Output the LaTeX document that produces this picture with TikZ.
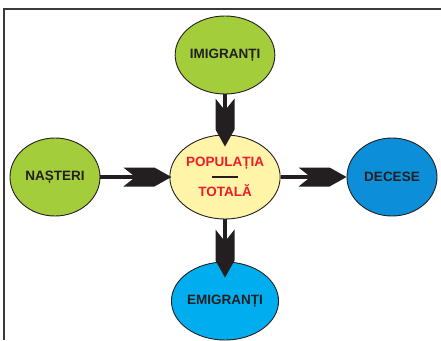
\documentclass[tikz,border=0pt]{standalone}
\usepackage{fontspec}
\setmainfont{Liberation Sans}
\usetikzlibrary{shapes.geometric}
\definecolor{ink}{HTML}{231F20}
\definecolor{framegray}{HTML}{3A3A3A}
\definecolor{leaf}{HTML}{A3CD3B}
\definecolor{cream}{HTML}{FFF4A8}
\definecolor{deepblue}{HTML}{0C8ED9}
\definecolor{skyblue}{HTML}{00AEEF}
\definecolor{redtext}{HTML}{EE1C25}
\pgfdeclarearrow{
  name=FatTail,
  setup code={
    \pgfarrowssettipend{0pt}
    \pgfarrowssetbackend{-48pt}
    \pgfarrowssetlineend{-30pt}
    \pgfarrowssetvisualbackend{-36pt}
  },
  drawing code={
    \pgfpathmoveto{\pgfpoint{0pt}{0pt}}
    \pgfpathlineto{\pgfpoint{-17pt}{9.5pt}}
    \pgfpathlineto{\pgfpoint{-48pt}{9.5pt}}
    \pgfpathlineto{\pgfpoint{-36pt}{0pt}}
    \pgfpathlineto{\pgfpoint{-48pt}{-9.5pt}}
    \pgfpathlineto{\pgfpoint{-17pt}{-9.5pt}}
    \pgfpathclose
    \pgfusepathqfill
  }
}
\begin{document}
\begin{tikzpicture}[x=1pt,y=-1pt,
  bubble/.style={ellipse, draw=ink, line width=0.9pt, inner sep=0pt,
    minimum width=90pt, minimum height=78pt,
    font=\fontsize{13.5}{15}\selectfont\bfseries, text=ink},
  conn/.style={draw=ink, fill=ink, line width=3.6pt, -FatTail},
  frameline/.style={draw=framegray, line width=1.3pt}]
\useasboundingbox (0,0) rectangle (441,340);
\draw[frameline] (4,340) -- (4,9) -- (441,9);
\node[bubble, fill=leaf] (imi) at (225,55) {IMIGRANȚI};
\node[bubble, fill=leaf] (nas) at (55,177) {NAȘTERI};
\node[bubble, fill=deepblue] (dec) at (392,177) {DECESE};
\node[bubble, fill=skyblue] (emi) at (225,301) {EMIGRANȚI};
\node[bubble, fill=cream, minimum width=93pt, minimum height=84pt, text=redtext, align=center] (pop) at (225,177)
  {POPULAȚIA\\{\color{ink}\rule[3.5pt]{26pt}{2.5pt}}\\TOTALĂ};
\draw[conn, shorten >=-12pt] (imi) -- (pop);
\draw[conn, shorten >=-2pt] (nas) -- (pop);
\draw[conn] (pop) -- (dec);
\draw[conn, shorten >=-16pt] (pop) -- (emi);
\end{tikzpicture}
\end{document}
